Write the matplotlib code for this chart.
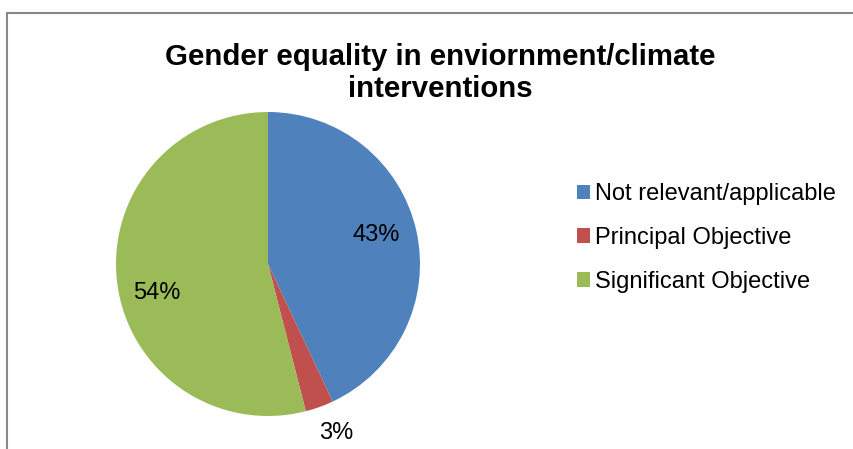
import matplotlib
matplotlib.use("Agg")
import matplotlib.pyplot as plt
from matplotlib.patches import Rectangle

categories = ["Not relevant/applicable", "Principal Objective", "Significant Objective"]
shares = [43, 3, 54]
colors = ["#4F81BD", "#C0504D", "#9BBB59"]
title = "Gender equality in enviornment/climate\ninterventions"

plt.rcParams["font.family"] = ["Liberation Sans", "DejaVu Sans"]

W, H = 854, 449
fig = plt.figure(figsize=(W / 100, H / 100), dpi=100)
fig.patch.set_facecolor("white")

# chart-area frame (runs off the right and bottom edges)
fig.patches.append(Rectangle((7 / W, -0.1), 1.2, (H - 13) / H + 0.1,
                             transform=fig.transFigure, fill=False,
                             edgecolor="#888888", linewidth=1.5))

cx, cy, r = 268, 264, 152
ax = fig.add_axes([(cx - r) / W, (H - cy - r) / H, 2 * r / W, 2 * r / H])
wedges, texts, autotexts = ax.pie(
    shares, colors=colors, startangle=90, counterclock=False,
    autopct="%1.0f%%", pctdistance=0.73, radius=1.0,
    wedgeprops=dict(linewidth=0),
    textprops=dict(fontsize=17, color="black"))
ax.set_xlim(-1, 1)
ax.set_ylim(-1, 1)
ax.set_aspect("equal")
ax.axis("off")

# label placement within the pie axes
label_pos = [(0.71, 0.19), (0.45, -1.11), (-0.73, -0.19)]
for t, p in zip(autotexts, label_pos):
    t.set_position(p)
    t.set_ha("center")
    t.set_va("center")

fig.text(440 / W, 1 - 73 / H, title, ha="center", va="center",
         fontsize=21.2, fontweight="bold", linespacing=1.15)

fig.legend(wedges, categories, loc="upper left",
           bbox_to_anchor=(577 / W, 1 - 183 / H), frameon=False,
           fontsize=17, handlelength=0.55, handleheight=0.55,
           handletextpad=0.2, labelspacing=0.93, borderaxespad=0,
           borderpad=0)

fig.savefig("out.png", dpi=100, facecolor="white")
